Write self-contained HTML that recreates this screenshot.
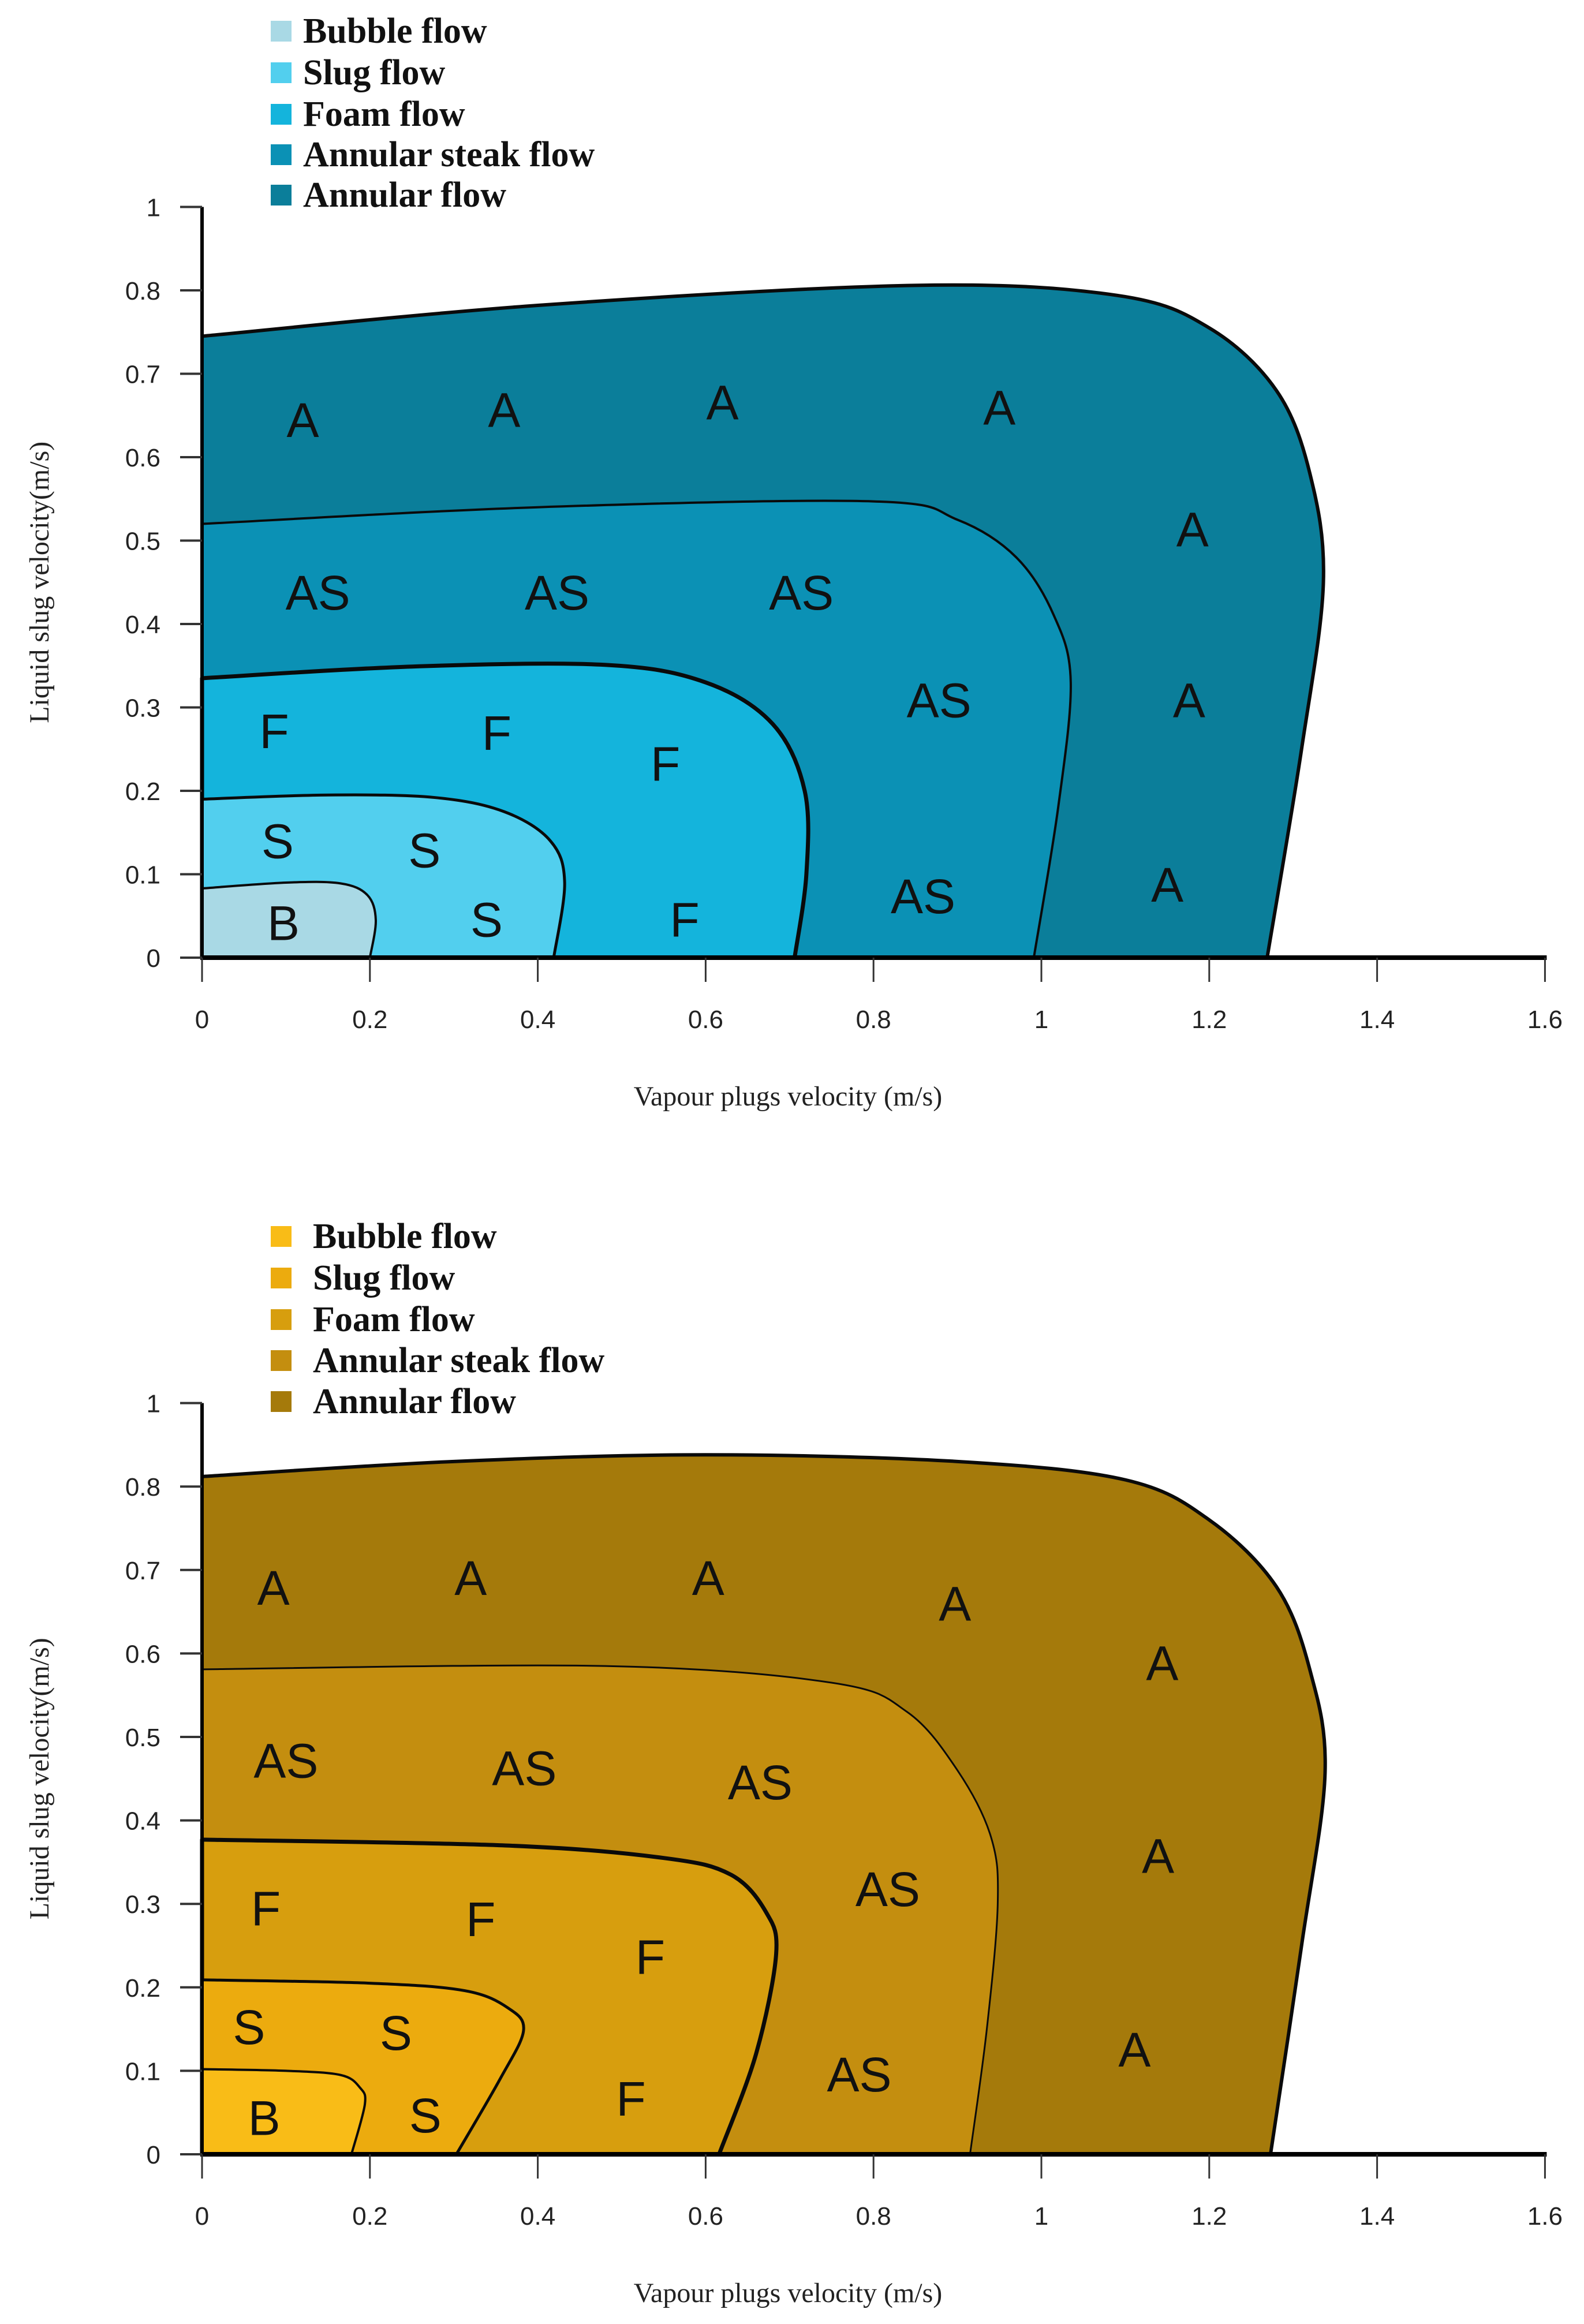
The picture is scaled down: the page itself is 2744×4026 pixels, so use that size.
<!DOCTYPE html>
<html><head><meta charset="utf-8"><style>
html,body{margin:0;padding:0;background:#fff;}
svg{display:block;}
.tick{font-family:"Liberation Sans Narrow","Liberation Sans",sans-serif;font-size:44px;fill:#222;}
.lbl{font-family:"Liberation Sans",sans-serif;font-size:84px;fill:#111;}
.leg{font-family:"Liberation Serif",serif;font-weight:bold;font-size:62px;fill:#111;}
.ttl{font-family:"Liberation Serif",serif;font-size:48px;fill:#222;}
</style></head><body>
<svg id="chart" xmlns="http://www.w3.org/2000/svg" width="2744" height="4026" viewBox="0 0 2744 4026"></svg>
<script>
// ---- data ----
const xTickValues = [0,0.2,0.4,0.6,0.8,1,1.2,1.4,1.6];
const xTickLabels = ["0","0.2","0.4","0.6","0.8","1","1.2","1.4","1.6"];
const yTickValues = [0,0.1,0.2,0.3,0.4,0.5,0.6,0.7,0.8,0.9];
const yTickLabels = ["0","0.1","0.2","0.3","0.4","0.5","0.6","0.7","0.8","1"];
const legendNames = ["Bubble flow","Slug flow","Foam flow","Annular steak flow","Annular flow"];

// top chart boundaries [x, y] in m/s
const topAnnular = [[0,0.745],[0.4,0.782],[0.85,0.806],[1.09,0.794],[1.2,0.755],[1.28,0.68],[1.32,0.58],[1.336,0.45],[1.31,0.25],[1.269,0]];
const topStreak = [[0,0.52],[0.4,0.54],[0.8,0.547],[0.9,0.525],[0.97,0.48],[1.015,0.41],[1.035,0.33],[1.02,0.18],[0.991,0]];
const topFoam = [[0,0.335],[0.25,0.349],[0.48,0.351],[0.6,0.33],[0.68,0.28],[0.718,0.2],[0.72,0.1],[0.706,0]];
const topSlug = [[0,0.19],[0.15,0.195],[0.277,0.192],[0.36,0.175],[0.415,0.14],[0.432,0.09],[0.419,0]];
const topBubble = [[0,0.083],[0.1,0.09],[0.165,0.089],[0.197,0.075],[0.207,0.045],[0.2,0]];

// bottom chart boundaries
const botAnnular = [[0,0.812],[0.3,0.83],[0.6,0.838],[0.9,0.83],[1.1,0.808],[1.2,0.76],[1.28,0.68],[1.32,0.58],[1.338,0.457],[1.31,0.25],[1.273,0]];
const botStreak = [[0,0.581],[0.48,0.585],[0.75,0.565],[0.84,0.53],[0.9,0.46],[0.94,0.38],[0.948,0.3],[0.935,0.15],[0.915,0]];
const botFoam = [[0,0.377],[0.361,0.37],[0.55,0.355],[0.63,0.335],[0.672,0.29],[0.684,0.24],[0.66,0.12],[0.616,0]];
const botSlug = [[0,0.209],[0.2,0.205],[0.313,0.196],[0.365,0.175],[0.383,0.148],[0.355,0.09],[0.303,0]];
const botBubble = [[0,0.102],[0.1,0.1],[0.165,0.095],[0.188,0.08],[0.194,0.06],[0.178,0]];

// region labels [text, x, y]
const topLabels = [["A",0.12,0.645],["A",0.36,0.657],["A",0.62,0.666],["A",0.95,0.66],["A",1.18,0.514],["A",1.176,0.309],["A",1.15,0.088],
 ["AS",0.138,0.438],["AS",0.423,0.438],["AS",0.714,0.438],["AS",0.878,0.309],["AS",0.859,0.074],
 ["F",0.086,0.272],["F",0.351,0.27],["F",0.552,0.233],["F",0.575,0.046],
 ["S",0.09,0.14],["S",0.265,0.129],["S",0.339,0.046],["B",0.097,0.042]];
const botLabels = [["A",0.085,0.679],["A",0.32,0.691],["A",0.603,0.691],["A",0.897,0.66],["A",1.144,0.589],["A",1.139,0.358],["A",1.111,0.126],
 ["AS",0.1,0.472],["AS",0.384,0.463],["AS",0.665,0.446],["AS",0.817,0.318],["AS",0.783,0.096],
 ["F",0.076,0.295],["F",0.332,0.282],["F",0.534,0.237],["F",0.511,0.067],
 ["S",0.056,0.153],["S",0.231,0.146],["S",0.266,0.047],["B",0.074,0.044]];

const NS = "http://www.w3.org/2000/svg";
const svg = document.getElementById('chart');
function mk(tag, attrs, parent){ const e=document.createElementNS(NS,tag); for(const k in attrs) e.setAttribute(k,attrs[k]); (parent||svg).appendChild(e); return e; }

function smoothPath(pts){
  let d = `M${pts[0][0]},${pts[0][1]}`;
  for(let i=0;i<pts.length-1;i++){
    const p0=pts[i-1]||pts[i], p1=pts[i], p2=pts[i+1], p3=pts[i+2]||p2;
    const c1=[p1[0]+(p2[0]-p0[0])/6, p1[1]+(p2[1]-p0[1])/6];
    const c2=[p2[0]-(p3[0]-p1[0])/6, p2[1]-(p3[1]-p1[1])/6];
    d += ` C${c1[0]},${c1[1]} ${c2[0]},${c2[1]} ${p2[0]},${p2[1]}`;
  }
  return d;
}

function drawChart(cfg){
  const g = mk('g',{});
  
  
  const X = v => 350 + 1454*v;
  const Y = v => cfg.y0 - cfg.unit*v;
  const regionNames = ['annular-flow-region','annular-steak-flow-region','foam-flow-region','slug-flow-region','bubble-flow-region'];
  cfg.curves.forEach((c,i)=>{
    const pts = c.map(p=>[X(p[0]),Y(p[1])]);
    const d = smoothPath(pts) + ` L${X(0)},${Y(0)} Z`;
    const p = mk('path',{d:d, fill:cfg.colors[4-i], stroke:'#0a0a0a', 'stroke-width': cfg.widths[i], 'stroke-linejoin':'round'}, g);
    
    
  });
  cfg.labels.forEach(l=>{
    const t = mk('text',{x:X(l[1]), y:Y(l[2])+30, 'text-anchor':'middle', class:'lbl'}, g);
    t.textContent = l[0];
    
    
  });
  const ya = mk('line',{x1:X(0),y1:Y(0.9),x2:X(0),y2:Y(0)+3,stroke:'#000','stroke-width':6},g);
  
  
  const xa = mk('line',{x1:X(0)-3,y1:Y(0),x2:X(1.6)+3,y2:Y(0),stroke:'#000','stroke-width':8},g);
  
  
  yTickValues.forEach((v,i)=>{
    mk('line',{x1:X(0)-38,y1:Y(v),x2:X(0),y2:Y(v),stroke:'#333','stroke-width':4},g);
    const t = mk('text',{x:278,y:Y(v)+16,'text-anchor':'end',class:'tick'},g);
    t.textContent = yTickLabels[i];
    
    
  });
  xTickValues.forEach((v,i)=>{
    mk('line',{x1:X(v),y1:Y(0),x2:X(v),y2:Y(0)+42,stroke:'#333','stroke-width':3},g);
    const t = mk('text',{x:X(v),y:Y(0)+122,'text-anchor':'middle',class:'tick'},g);
    t.textContent = xTickLabels[i];
    
    
  });
  const xt = mk('text',{x:1365,y:Y(0)+256,'text-anchor':'middle',class:'ttl'},g);
  xt.textContent = 'Vapour plugs velocity (m/s)';
  
  
  const yc = Y(0.45);
  const yt = mk('text',{x:84,y:yc,'text-anchor':'middle',class:'ttl',transform:`rotate(-90 84 ${yc})`},g);
  yt.textContent = 'Liquid slug velocity(m/s)';
  
  
  legendNames.forEach((n,i)=>{
    const ly = cfg.legY[i];
    const r = mk('rect',{x:469,y:ly-18,width:36,height:36,fill:cfg.colors[i]},g);
    
    
    const t = mk('text',{x:cfg.legX,y:ly+20,class:'leg'},g);
    t.textContent = n;
    
    
  });
}

drawChart({name:'top-chart', y0:1659, unit:1445,
  curves:[topAnnular,topStreak,topFoam,topSlug,topBubble], widths:[6,4,7,5,4],
  colors:['#a9d9e5','#52cfee','#14b4dc','#0b91b5','#0b7e9a'],
  labels:topLabels, legY:[54,126,198,268,338], legX:525});
drawChart({name:'bottom-chart', y0:3732, unit:1446,
  curves:[botAnnular,botStreak,botFoam,botSlug,botBubble], widths:[6,3,7,5,4],
  colors:['#f9bc17','#ecab0e','#d79e0e','#c48e0f','#a57a0b'],
  labels:botLabels, legY:[2142,2214,2286,2357,2428], legX:542});
</script>
</body></html>
